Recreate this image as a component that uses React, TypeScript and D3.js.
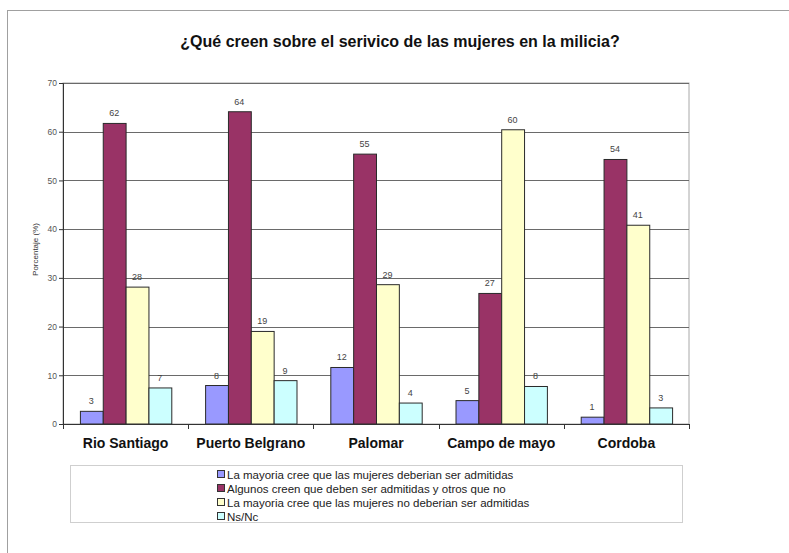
import React from 'react';
import * as d3 from 'd3';

const categories = ['Rio Santiago', 'Puerto Belgrano', 'Palomar', 'Campo de mayo', 'Cordoba'];
const seriesNames = [
  'La mayoria cree que las mujeres deberian ser admitidas',
  'Algunos creen que deben ser admitidas y otros que no',
  'La mayoria cree que las mujeres no deberian ser admitidas',
  'Ns/Nc',
];
const admitidas = [2.6, 7.9, 11.6, 4.8, 1.4];
const algunos = [61.7, 64.1, 55.4, 26.8, 54.3];
const noAdmitidas = [28.1, 19.0, 28.6, 60.4, 40.8];
const nsnc = [7.4, 8.9, 4.3, 7.7, 3.3];
const colors = ['#9999FF', '#993366', '#FFFFCC', '#CCFFFF'];
const yTicks = [0, 10, 20, 30, 40, 50, 60, 70];

const W = 789;
const H = 553;
const FONT = '"Liberation Sans", Arial, sans-serif';

const App: React.FC = () => {
  const svgRef = React.useRef<SVGSVGElement | null>(null);

  React.useEffect(() => {
    const series = [admitidas, algunos, noAdmitidas, nsnc];
    const margin = { top: 83, left: 63, right: 100, bottom: 129 };
    const innerW = W - margin.left - margin.right;
    const innerH = H - margin.top - margin.bottom;

    const svg = d3.select(svgRef.current);
    svg.selectAll('*').remove();

    // outer chart border
    svg
      .append('rect')
      .attr('x', 7.5)
      .attr('y', 10.5)
      .attr('width', 900)
      .attr('height', 700)
      .attr('fill', 'white')
      .attr('stroke', '#a0a0a0');

    svg
      .append('text')
      .attr('x', 400)
      .attr('y', 47)
      .attr('text-anchor', 'middle')
      .attr('font-family', FONT)
      .attr('font-weight', 'bold')
      .attr('font-size', 16)
      .attr('fill', '#111')
      .text('¿Qué creen sobre el serivico de las mujeres en la milicia?');

    const g = svg.append('g').attr('transform', `translate(${margin.left},${margin.top})`);

    const x0 = d3.scaleBand<string>().domain(categories).range([0, innerW]).padding(0);
    const x1 = d3
      .scaleBand<number>()
      .domain([0, 1, 2, 3])
      .range([0, x0.bandwidth()])
      .paddingInner(0)
      .paddingOuter(0.74);
    const y = d3.scaleLinear().domain([0, 70]).range([innerH, 0]);

    // plot area border
    g.append('rect')
      .attr('x', 0)
      .attr('y', 0)
      .attr('width', innerW)
      .attr('height', innerH)
      .attr('fill', 'none')
      .attr('stroke', '#a8a8a8');

    // gridlines
    g.selectAll('line.grid')
      .data(yTicks.filter((t) => t > 0))
      .join('line')
      .attr('class', 'grid')
      .attr('x1', 0)
      .attr('x2', innerW)
      .attr('y1', (d) => Math.round(y(d)) + 0.5)
      .attr('y2', (d) => Math.round(y(d)) + 0.5)
      .attr('stroke', '#6a6a6a');

    // bars
    const groups = g
      .selectAll('g.cat')
      .data(categories)
      .join('g')
      .attr('class', 'cat')
      .attr('transform', (d) => `translate(${x0(d)},0)`);

    series.forEach((vals, si) => {
      groups
        .append('rect')
        .attr('x', () => (x1(si) || 0) + 0.5)
        .attr('width', x1.bandwidth())
        .attr('y', (_, i) => y(vals[i]))
        .attr('height', (_, i) => innerH - y(vals[i]))
        .attr('fill', colors[si])
        .attr('stroke', '#2a2a2a')
        .attr('stroke-width', 1);

      groups
        .append('text')
        .attr('x', () => (x1(si) || 0) + x1.bandwidth() / 2)
        .attr('y', (_, i) => y(vals[i]) - 7)
        .attr('text-anchor', 'middle')
        .attr('font-family', FONT)
        .attr('font-size', 9)
        .attr('fill', '#444')
        .text((_, i) => String(Math.round(vals[i])));
    });

    // y axis
    const yAxis = d3
      .axisLeft(y)
      .tickValues(yTicks)
      .tickSize(4)
      .tickFormat((d) => String(d));
    const ya = g.append('g').call(yAxis);
    ya.select('.domain').attr('stroke', '#333');
    ya.selectAll('line').attr('stroke', '#333');
    ya.selectAll('text')
      .attr('font-family', FONT)
      .attr('font-size', 8.5)
      .attr('fill', '#555')
      .attr('x', -6);

    // x axis
    const xa = g.append('g').attr('transform', `translate(0,${innerH})`);
    xa.append('line')
      .attr('x1', -4)
      .attr('x2', innerW)
      .attr('y1', 0.5)
      .attr('y2', 0.5)
      .attr('stroke', '#333');
    xa.selectAll('line.tick')
      .data(d3.range(categories.length + 1))
      .join('line')
      .attr('class', 'tick')
      .attr('x1', (i) => Math.round(i * x0.step()) + 0.5)
      .attr('x2', (i) => Math.round(i * x0.step()) + 0.5)
      .attr('y1', 0)
      .attr('y2', 5)
      .attr('stroke', '#333');
    xa.selectAll('text')
      .data(categories)
      .join('text')
      .attr('x', (d) => (x0(d) || 0) + x0.bandwidth() / 2)
      .attr('y', 24)
      .attr('text-anchor', 'middle')
      .attr('font-family', FONT)
      .attr('font-weight', 'bold')
      .attr('font-size', 14)
      .attr('fill', '#111')
      .text((d) => d);

    // y title
    svg
      .append('text')
      .attr('transform', `translate(38,${margin.top + innerH / 2 - 4}) rotate(-90)`)
      .attr('text-anchor', 'middle')
      .attr('font-family', FONT)
      .attr('font-size', 8)
      .attr('fill', '#333')
      .text('Porcentaje (%)');

    // legend
    const lg = svg.append('g');
    lg.append('rect')
      .attr('x', 70.5)
      .attr('y', 465.5)
      .attr('width', 612)
      .attr('height', 57)
      .attr('fill', 'white')
      .attr('stroke', '#cfcfcf');
    const items = lg
      .selectAll('g.item')
      .data(seriesNames)
      .join('g')
      .attr('class', 'item')
      .attr('transform', (_, i) => `translate(217,${470 + i * 14})`);
    items
      .append('rect')
      .attr('x', 0.5)
      .attr('y', 0.5)
      .attr('width', 7)
      .attr('height', 7)
      .attr('fill', (_, i) => colors[i])
      .attr('stroke', '#333');
    items
      .append('text')
      .attr('x', 10)
      .attr('y', 8.5)
      .attr('font-family', FONT)
      .attr('font-size', 11.5)
      .attr('fill', '#222')
      .text((d) => d);
  }, []);

  return (
    <svg
      ref={svgRef}
      width={W}
      height={H}
      style={{ position: 'absolute', left: 0, top: 0, background: 'white' }}
    />
  );
};

export default App;
